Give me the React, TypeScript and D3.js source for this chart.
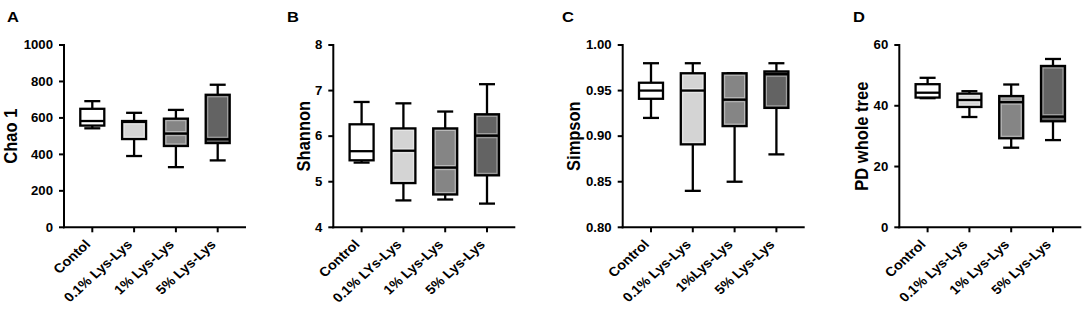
import React from "react";
import * as d3 from "d3";

// ---- data ----
const panelLetters = ["A", "B", "C", "D"];
const yTitles = ["Chao 1", "Shannon", "Simpson", "PD whole tree"];

const catsA = ["Contol", "0.1% Lys-Lys", "1% Lys-Lys", "5% Lys-Lys"];
const catsB = ["Control", "0.1% LYs-Lys", "1% Lys-Lys", "5% Lys-Lys"];
const catsC = ["Control", "0.1% Lys-Lys", "1%Lys-Lys", "5% Lys-Lys"];
const catsD = ["Control", "0.1% Lys-Lys", "1% Lys-Lys", "5% Lys-Lys"];

// [min, q1, median, q3, max]
const chao1Stats = [
  [543, 558, 583, 650, 692],
  [391, 484, 578, 583, 628],
  [330, 446, 514, 596, 644],
  [367, 462, 483, 727, 782],
];
const shannonStats = [
  [5.42, 5.47, 5.67, 6.26, 6.75],
  [4.59, 4.97, 5.68, 6.17, 6.72],
  [4.61, 4.72, 5.31, 6.17, 6.54],
  [4.52, 5.14, 6.01, 6.48, 7.14],
];
const simpsonStats = [
  [0.92, 0.941, 0.95, 0.9586, 0.98],
  [0.84, 0.891, 0.95, 0.969, 0.98],
  [0.85, 0.911, 0.94, 0.969, 0.969],
  [0.88, 0.931, 0.968, 0.971, 0.98],
];
const pdStats = [
  [42.5, 42.7, 44.3, 47.1, 49.2],
  [36.3, 39.6, 41.9, 44.0, 44.8],
  [26.2, 29.3, 41.2, 43.2, 47.0],
  [28.7, 34.9, 36.4, 53.1, 55.4],
];

const ticksA = [0, 200, 400, 600, 800, 1000];
const ticksB = [4, 5, 6, 7, 8];
const ticksC = [0.8, 0.85, 0.9, 0.95, 1.0];
const ticksD = [0, 20, 40, 60];

const boxFills = ["#ffffff", "#d4d4d4", "#858585", "#636363"];

// ---- layout ----
const SX = 1.1; // horizontal stretch of text
const FONT = "'Liberation Sans', Arial, Helvetica, sans-serif";
const yTop = 45;
const yBottom = 227.3;
const axisWidth = 182;

type Panel = {
  letter: string;
  letterX: number;
  axisX: number;
  titleX: number;
  title: string;
  cats: string[];
  stats: number[][];
  ticks: number[];
  fmt: (v: number) => string;
};

const panels: Panel[] = [
  { letter: panelLetters[0], letterX: 7, axisX: 64, titleX: 17, title: yTitles[0], cats: catsA, stats: chao1Stats, ticks: ticksA, fmt: d3.format("d") },
  { letter: panelLetters[1], letterX: 287, axisX: 333.3, titleX: 309.5, title: yTitles[1], cats: catsB, stats: shannonStats, ticks: ticksB, fmt: d3.format("d") },
  { letter: panelLetters[2], letterX: 562, axisX: 622.7, titleX: 579.5, title: yTitles[2], cats: catsC, stats: simpsonStats, ticks: ticksC, fmt: d3.format(".2f") },
  { letter: panelLetters[3], letterX: 853, axisX: 899.3, titleX: 867.5, title: yTitles[3], cats: catsD, stats: pdStats, ticks: ticksD, fmt: d3.format("d") },
];

const SW = 2.3;
const BOX_W = 24;
const CAP_W = 16;

function PanelView({ p }: { p: Panel }) {
  const y = d3
    .scaleLinear()
    .domain([p.ticks[0], p.ticks[p.ticks.length - 1]])
    .range([yBottom, yTop]);
  const x = d3
    .scalePoint<string>()
    .domain(p.cats)
    .range([p.axisX, p.axisX + axisWidth])
    .padding(0.677);
  const cy = (yTop + yBottom) / 2;
  return (
    <g>
      <text
        transform={`translate(${p.letterX},21.5) scale(${SX},1)`}
        fontSize={15}
        fontWeight="bold"
        fontFamily={FONT}
      >
        {p.letter}
      </text>
      <text
        transform={`translate(${p.titleX},${cy}) scale(${SX},1) rotate(-90)`}
        textAnchor="middle"
        fontSize={16.5}
        fontWeight="bold"
        fontFamily={FONT}
      >
        {p.title}
      </text>
      {/* boxes */}
      {p.stats.map((s, i) => {
        const cx = x(p.cats[i])!;
        const [mn, q1, md, q3, mx] = s;
        const fill = boxFills[i];
        const inset = SW / 2 + 0.9;
        return (
          <g key={i}>
            <line x1={cx} x2={cx} y1={y(mx)} y2={y(q3)} stroke="#000" strokeWidth={SW} />
            <line x1={cx} x2={cx} y1={y(q1)} y2={y(mn)} stroke="#000" strokeWidth={SW} />
            <line x1={cx - CAP_W / 2} x2={cx + CAP_W / 2} y1={y(mx)} y2={y(mx)} stroke="#000" strokeWidth={SW} />
            <line x1={cx - CAP_W / 2} x2={cx + CAP_W / 2} y1={y(mn)} y2={y(mn)} stroke="#000" strokeWidth={SW} />
            <rect x={cx - BOX_W / 2} y={y(q3)} width={BOX_W} height={y(q1) - y(q3)} fill={fill} />
            {i > 0 && y(md) - y(q3) > 2 * inset + 0.5 && (
              <rect
                x={cx - BOX_W / 2 + inset}
                y={y(q3) + inset}
                width={BOX_W - 2 * inset}
                height={y(md) - y(q3) - 2 * inset}
                fill="none"
                stroke="#ffffff"
                strokeOpacity={0.45}
                strokeWidth={1}
              />
            )}
            {i > 0 && y(q1) - y(md) > 2 * inset + 0.5 && (
              <rect
                x={cx - BOX_W / 2 + inset}
                y={y(md) + inset}
                width={BOX_W - 2 * inset}
                height={y(q1) - y(md) - 2 * inset}
                fill="none"
                stroke="#ffffff"
                strokeOpacity={0.45}
                strokeWidth={1}
              />
            )}
            <rect
              x={cx - BOX_W / 2}
              y={y(q3)}
              width={BOX_W}
              height={y(q1) - y(q3)}
              fill="none"
              stroke="#000"
              strokeWidth={SW}
            />
            <line x1={cx - BOX_W / 2} x2={cx + BOX_W / 2} y1={y(md)} y2={y(md)} stroke="#000" strokeWidth={SW} />
          </g>
        );
      })}
      {/* y axis */}
      <line x1={p.axisX} x2={p.axisX} y1={yTop - 1} y2={yBottom + 1} stroke="#000" strokeWidth={2} />
      {p.ticks.map((t) => (
        <g key={t}>
          <line x1={p.axisX - 5} x2={p.axisX} y1={y(t)} y2={y(t)} stroke="#000" strokeWidth={2} />
          <text
            transform={`translate(${p.axisX - 11},${y(t) + 4.2}) scale(${SX},1)`}
            textAnchor="end"
            fontSize={12}
            fontWeight="bold"
            fontFamily={FONT}
          >
            {p.fmt(t)}
          </text>
        </g>
      ))}
      {/* x axis */}
      <line x1={p.axisX - 1} x2={p.axisX + axisWidth} y1={yBottom} y2={yBottom} stroke="#000" strokeWidth={2} />
      {p.cats.map((c) => (
        <g key={c}>
          <line x1={x(c)!} x2={x(c)!} y1={yBottom} y2={yBottom + 5} stroke="#000" strokeWidth={2} />
          <text
            transform={`translate(${x(c)! - 1},${yBottom + 18}) scale(${SX},1) rotate(-45)`}
            textAnchor="end"
            fontSize={13}
            fontWeight="bold"
            fontFamily={FONT}
          >
            {c}
          </text>
        </g>
      ))}
    </g>
  );
}

export default function App() {
  return (
    <svg
      width={1084}
      height={309}
      style={{ position: "absolute", left: 0, top: 0, background: "#fff" }}
    >
      <rect width={1084} height={309} fill="#fff" />
      {panels.map((p) => (
        <PanelView key={p.letter} p={p} />
      ))}
    </svg>
  );
}
